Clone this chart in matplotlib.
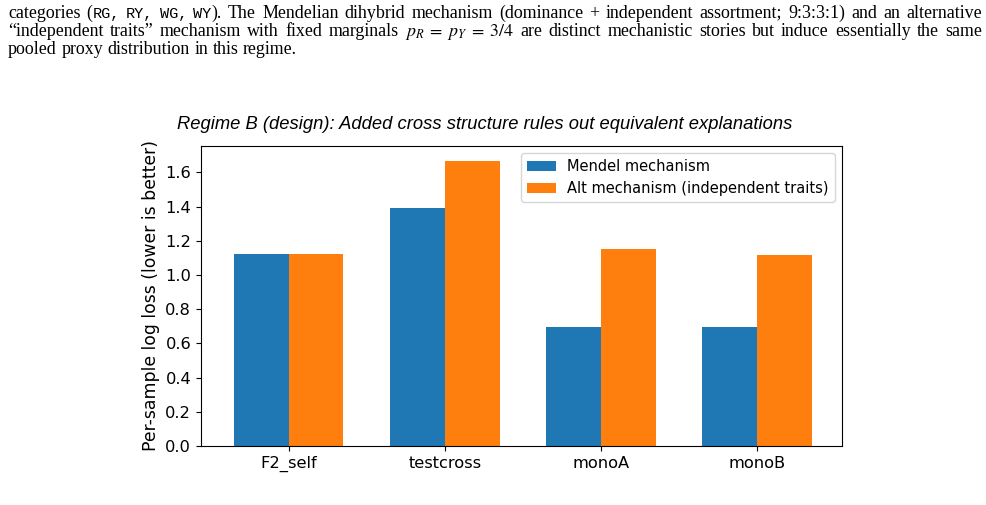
import matplotlib
matplotlib.use("Agg")
import matplotlib.pyplot as plt
import numpy as np
from matplotlib.font_manager import FontProperties
from matplotlib.backends.backend_agg import get_hinting_flag

# data
CONDITIONS = ["F2_self", "testcross", "monoA", "monoB"]
MENDEL = [1.12, 1.389, 0.695, 0.695]
ALT = [1.12, 1.668, 1.149, 1.118]

TITLE = "Regime B (design): Added cross structure rules out equivalent explanations"
YLABEL = "Per-sample log loss (lower is better)"

plt.rcParams["mathtext.fontset"] = "stix"

DPI = 100
fig = plt.figure(figsize=(9.87, 5.05), dpi=DPI)
ax = fig.add_axes([0.2036, 0.1168, 0.6495, 0.5942])

x = np.arange(len(CONDITIONS))
w = 0.35
ax.bar(x - w / 2, MENDEL, w, color="#1f77b4", label="Mendel mechanism")
ax.bar(x + w / 2, ALT, w, color="#ff7f0e", label="Alt mechanism (independent traits)")
ax.set_xticks(x)
ax.set_xticklabels(CONDITIONS, fontsize=11.7)
ax.tick_params(axis="y", labelsize=11.7)
ax.set_xlim(-0.563, 3.544)
ax.set_ylim(0, 1.754)
ax.set_yticks(np.arange(0, 1.61, 0.2))
ax.set_ylabel(YLABEL, fontsize=12.4)
ax.legend(loc="upper right", fontsize=10.5)
fig.text(0.491, 0.744, TITLE, ha="center", va="baseline", fontsize=13.2,
         family="Liberation Sans", style="italic")

# paper text above the figure, justified line by line
serif = FontProperties(family="Liberation Serif", size=12.9)
mono = FontProperties(family="Liberation Mono", size=11.0)
mathp = FontProperties(size=12.9)

LINES = [
    [("categories", serif), ("(", serif, "RG,", mono), ("RY,", mono), ("WG,", mono),
     ("WY", mono, ").", serif), ("The", serif), ("Mendelian", serif), ("dihybrid", serif),
     ("mechanism", serif), ("(dominance", serif), ("+", serif), ("independent", serif),
     ("assortment;", serif), ("9:3:3:1)", serif), ("and", serif), ("an", serif),
     ("alternative", serif)],
    [("\u201cindependent", serif), ("traits\u201d", serif), ("mechanism", serif),
     ("with", serif), ("fixed", serif), ("marginals", serif),
     (r"$p_R\;=\;p_Y\;=\;3/4$", mathp),
     ("are", serif), ("distinct", serif), ("mechanistic", serif), ("stories", serif),
     ("but", serif), ("induce", serif), ("essentially", serif), ("the", serif),
     ("same", serif)],
    [("pooled", serif), ("proxy", serif), ("distribution", serif), ("in", serif),
     ("this", serif), ("regime.", serif)],
]
BASELINES = [18, 36, 54]
X0, X1 = 8, 982

fig.canvas.draw()
r = fig.canvas.get_renderer()
W, H = fig.bbox.width, fig.bbox.height


def width_of(s, fp):
    t = fig.text(0, 0, s, fontproperties=fp)
    bb = t.get_window_extent(renderer=r)
    t.remove()
    return bb.width


def baseline_row(s, fp, row):
    # Agg snaps each string's bitmap to whole pixels from its own bbox;
    # shift the requested baseline so every word lands on the same row
    if "$" in s:
        return row
    font = r._prepare_font(fp)
    font.set_text(s, 0, flags=get_hinting_flag())
    desc = font.get_descent()
    _, hh = font.get_width_height()
    return row + hh // 64 - (hh - desc) // 64 - desc / 64.0


normal_space = width_of("a b", serif) - width_of("ab", serif)
for li, (words, yb) in enumerate(zip(LINES, BASELINES)):
    # each word may consist of several (text, font) runs
    runs = [[(wd[i], wd[i + 1]) for i in range(0, len(wd), 2)] for wd in words]
    widths = [sum(width_of(s, fp) for s, fp in parts) for parts in runs]
    if li < len(LINES) - 1:
        gap = (X1 - X0 - sum(widths)) / (len(runs) - 1)
    else:
        gap = normal_space
    xp = X0
    for parts, wtot in zip(runs, widths):
        xx = xp
        for s, fp in parts:
            yy = baseline_row(s, fp, yb)
            fig.text(xx / W, 1 - yy / H, s, fontproperties=fp,
                     va="baseline", ha="left")
            xx += width_of(s, fp)
        xp += wtot + gap

fig.savefig("out.png", dpi=DPI)
